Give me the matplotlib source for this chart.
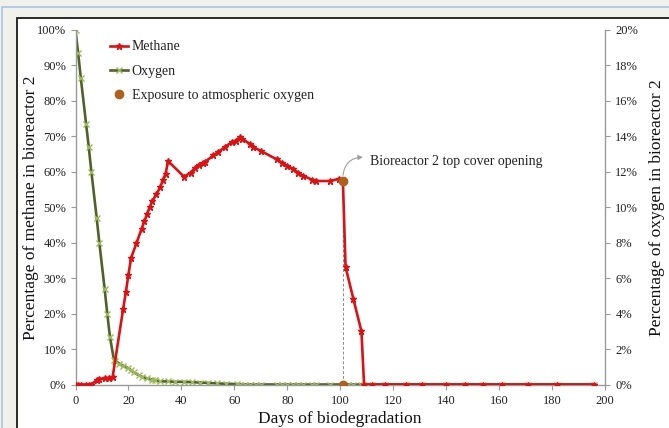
import matplotlib
matplotlib.use("Agg")
import matplotlib.pyplot as plt
from matplotlib.patches import Rectangle
from matplotlib.ticker import FuncFormatter, MultipleLocator
from matplotlib.lines import Line2D

plt.rcParams['font.family'] = ['Liberation Serif', 'DejaVu Serif']

# ---------------- data ----------------
methane_days = [0, 1, 2, 4, 5, 6, 8, 9, 11, 12.5, 14, 18, 19, 20, 21, 23, 25, 26, 27, 28,
                29, 30.5, 32, 33, 34, 35, 41, 43.5, 45, 46.5, 48, 49, 52, 54, 56.5, 59,
                60.5, 62, 63, 66, 67, 70, 76, 78, 80, 82, 84, 86, 89.5, 91, 96, 99.5, 101,
                102, 105, 108, 109, 112, 117, 125, 131, 140, 147, 154, 161, 171, 182, 196]
methane_pct = [0, 0, 0, 0, 0, 0, 1.2, 1.5, 1.7, 1.9, 2.0, 21.3, 26, 31, 35.7, 39.8, 44, 46,
               48, 50, 51.7, 53.6, 55.6, 57.7, 59.4, 63, 58.6, 59.8, 61, 61.9, 62.4, 62.8,
               64.6, 65.6, 67, 68.4, 68.8, 69.7, 69.3, 67.8, 67, 65.9, 63.5, 62.6, 61.7,
               60.9, 59.8, 58.9, 57.7, 57.4, 57.4, 58.0, 57.4,
               33.2, 24, 15, 0, 0, 0, 0, 0, 0, 0, 0, 0, 0, 0, 0]

oxygen_days = [0, 1, 2, 4, 5, 6, 8, 9, 11, 12, 13, 14.5, 15, 16.5, 18, 20, 21, 22, 24, 25,
               27, 29, 30, 32, 35, 37.5, 41, 44, 47, 50, 53.5, 57, 61, 62, 64, 66, 68, 70,
               76, 78, 80, 82, 84, 86, 89.5, 91, 96, 103, 105, 108, 109, 112, 117, 125,
               131, 140, 147, 154, 161, 171, 182, 196]
oxygen_pct = [20, 18.7, 17.3, 14.7, 13.4, 12.0, 9.4, 8.0, 5.4, 4.0, 2.7, 1.4, 1.34, 1.18,
              1.06, 0.92, 0.8, 0.68, 0.52, 0.44, 0.34, 0.28, 0.24, 0.18, 0.17, 0.15, 0.15,
              0.13, 0.11, 0.09, 0.06, 0.04, 0.02, 0, 0, 0, 0, 0, 0, 0, 0, 0, 0, 0, 0, 0,
              0, 0, 0, 0, 0, 0, 0, 0, 0, 0, 0, 0, 0, 0, 0, 0]

exposure_days = [101, 101]
exposure_pct = [57.4, 0]

annotation_text = "Bioreactor 2 top cover opening"

# ---------------- figure ----------------
W, H = 669, 428
fig = plt.figure(figsize=(W / 100, H / 100), dpi=100)
fig.patch.set_facecolor('#F1F1EC')

def fx(px):
    return px / W

def fy(py):
    return 1 - py / H

# outer window border and white chart area
fig.patches.append(Rectangle((fx(2), fy(440)), fx(680) - fx(2), fy(7) - fy(440),
                             transform=fig.transFigure, facecolor='#F1F1EC',
                             edgecolor='#A9C4E4', linewidth=1.2, zorder=-3))
fig.patches.append(Rectangle((fx(17), fy(440)), fx(700) - fx(17), fy(18) - fy(440),
                             transform=fig.transFigure, facecolor='white',
                             edgecolor='#1a1a1a', linewidth=1.3, zorder=-2))

ax = fig.add_axes([fx(75.5), fy(384.5), fx(605) - fx(75.5), fy(30) - fy(384.5)])
ax2 = ax.twinx()
ax.set_facecolor('none')
ax2.set_facecolor('none')

red = '#DD1111'
olive = '#4F6228'
lightgreen = '#9BBB59'
brown = '#B0601A'
gray = '#8C8C8C'

ax2.plot(oxygen_days, oxygen_pct, color=olive, lw=1.9, marker='x', ms=4.5,
         mec=lightgreen, mew=1.0, zorder=2)
ax.plot(methane_days, methane_pct, color=red, lw=1.9, marker='*', ms=4.5,
        mec=red, mfc=red, zorder=3)

ax.plot([exposure_days[0], exposure_days[1]], [exposure_pct[0], exposure_pct[1]],
        color=gray, lw=0.7, ls=(0, (3, 2)), zorder=2.5)
ax.scatter(exposure_days, exposure_pct, s=36, color=brown, zorder=5)

ax.set_zorder(ax2.get_zorder() + 1)

ax.set_xlim(0, 200)
ax.set_ylim(0, 100)
ax2.set_ylim(0, 20)
ax.xaxis.set_major_locator(MultipleLocator(20))
ax.yaxis.set_major_locator(MultipleLocator(10))
ax2.yaxis.set_major_locator(MultipleLocator(2))
ax.yaxis.set_major_formatter(FuncFormatter(lambda v, p: f"{v:.0f}%"))
ax2.yaxis.set_major_formatter(FuncFormatter(lambda v, p: f"{v:.0f}%"))

for a in (ax, ax2):
    a.spines['top'].set_visible(False)
    for s in ('left', 'right', 'bottom'):
        a.spines[s].set_color('#9A9A9A')
        a.spines[s].set_linewidth(1.0)
    a.tick_params(colors='#9A9A9A', labelcolor='#222222', labelsize=9,
                  length=3.5, width=0.8, direction='out')
ax2.spines['left'].set_visible(False)
ax2.spines['bottom'].set_visible(False)
ax.spines['right'].set_visible(False)
ax.tick_params(axis='x', pad=4)
ax.tick_params(axis='y', pad=3)
ax2.tick_params(axis='y', pad=4)

ax.set_xlabel("Days of biodegradation", fontsize=12.5, labelpad=3, color='#111111')
ax.set_ylabel("Percentage of methane in bioreactor 2", fontsize=12.5, labelpad=-1,
              color='#111111')
ax2.set_ylabel("Percentage of oxygen in bioreactor 2", fontsize=12.5, labelpad=8,
               color='#111111')

# annotation: curved arrow from the dot to the text, then the text
ax.annotate('', xy=(108.6, 64.1), xytext=(101, 58.6),
            arrowprops=dict(arrowstyle='-|>', color='#A0A0A0', lw=0.8,
                            shrinkA=1, shrinkB=0, mutation_scale=7,
                            connectionstyle='arc3,rad=-0.45'),
            zorder=6)
ax.text(111.3, 63.0, annotation_text, fontsize=10, color='#222222',
        va='center', ha='left', zorder=6)

handles = [
    Line2D([], [], color=red, lw=1.9, marker='*', ms=4.5, mec=red, mfc=red),
    Line2D([], [], color=olive, lw=1.9, marker='x', ms=4.5, mec=lightgreen, mew=1.0),
    Line2D([], [], color=brown, lw=0, marker='o', ms=6),
]
labels = ["Methane", "Oxygen", "Exposure to atmospheric oxygen"]
leg = fig.legend(handles, labels, loc='upper left', bbox_to_anchor=(fx(110), fy(40.5)),
                 frameon=False, fontsize=10, handlelength=1.3, handletextpad=0.25,
                 labelspacing=0.82, borderpad=0, borderaxespad=0, markerscale=1.0)
for t in leg.get_texts():
    t.set_color('#222222')

fig.savefig("out.png", dpi=100, facecolor=fig.get_facecolor())
